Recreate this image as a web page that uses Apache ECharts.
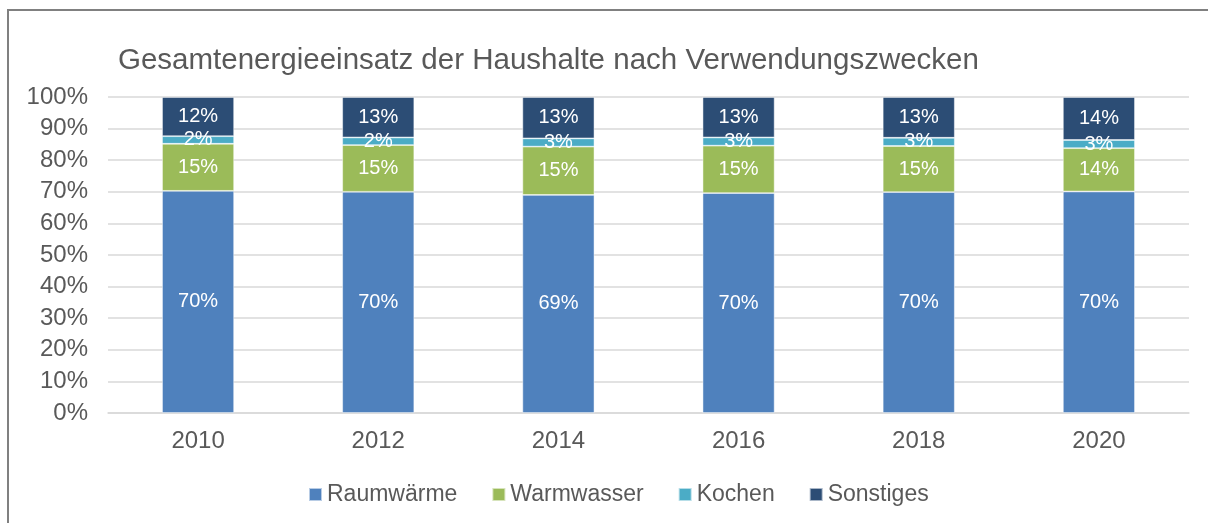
<!DOCTYPE html>
<html>
<head>
<meta charset="utf-8">
<script src="https://cdn.jsdelivr.net/npm/echarts@6/dist/echarts.min.js"></script>
<style>
	html, body { margin: 0; padding: 0; background: #fff; }
	#chart { width: 1208px; height: 523px; }
</style>
</head>
<body>
<div id="chart"></div>
<script>
var years = ['2010', '2012', '2014', '2016', '2018', '2020'];
var raumwaerme = [70.3, 70.0, 69.0, 69.6, 69.9, 70.1];
var warmwasser = [14.9, 14.8, 15.3, 15.0, 14.6, 13.7];
var kochen = [2.4, 2.4, 2.6, 2.6, 2.6, 2.6];
var sonstiges = [12.4, 12.8, 13.1, 12.8, 12.9, 13.6];
var yTicks = [0, 10, 20, 30, 40, 50, 60, 70, 80, 90, 100];

var myColor = ['#4F81BD', '#9BBB59', '#4BACC6', '#2C4D75'];
var textColor = '#595959';
var font = 'Liberation Sans, Arial, sans-serif';

function makeSeries(name, data) {
	return {
		name: name,
		type: 'bar',
		stack: 'total',
		barWidth: '40%',
		data: data,
		itemStyle: {
			borderColor: 'rgba(255,255,255,0.6)',
			borderWidth: 0.8
		},
		label: {
			show: true,
			position: 'inside',
			color: '#fff',
			fontSize: 20,
			fontFamily: font,
			formatter: function(p) {
				return Math.round(p.value) + '%';
			}
		}
	};
}

var chart = echarts.init(document.getElementById('chart'));
chart.setOption({
	animation: false,
	color: myColor,
	textStyle: { fontFamily: font },
	title: {
		text: 'Gesamtenergieeinsatz der Haushalte nach Verwendungszwecken',
		left: 118,
		top: 46,
		padding: 0,
		textStyle: {
			color: textColor,
			fontSize: 29.5,
			fontWeight: 'normal',
			fontFamily: font
		}
	},
	legend: {
		left: 303,
		top: 478,
		itemWidth: 13,
		itemHeight: 13,
		itemGap: 34,
		icon: 'rect',
		textStyle: {
			color: textColor,
			fontSize: 23,
			fontFamily: font
		},
		data: ['Raumwärme', 'Warmwasser', 'Kochen', 'Sonstiges']
	},
	grid: {
		left: 108,
		right: 19,
		top: 97,
		bottom: 110
	},
	xAxis: {
		type: 'category',
		data: years,
		axisLine: { lineStyle: { color: '#d9d9d9', width: 1.5 } },
		axisTick: { show: false },
		axisLabel: {
			color: textColor,
			fontSize: 24,
			margin: 16,
			fontFamily: font
		}
	},
	yAxis: {
		type: 'value',
		min: yTicks[0],
		max: yTicks[yTicks.length - 1],
		interval: yTicks[1] - yTicks[0],
		axisLine: { show: false },
		axisTick: { show: false },
		splitLine: { lineStyle: { color: '#d9d9d9', width: 1.5 } },
		axisLabel: {
			color: textColor,
			fontSize: 24,
			margin: 20,
			fontFamily: font,
			formatter: '{value}%'
		}
	},
	graphic: [{
		type: 'line',
		shape: { x1: 8, y1: 10, x2: 1208, y2: 10 },
		style: { stroke: '#808080', lineWidth: 2 }
	}, {
		type: 'line',
		shape: { x1: 8, y1: 9, x2: 8, y2: 523 },
		style: { stroke: '#808080', lineWidth: 2 }
	}],
	series: [
		makeSeries('Raumwärme', raumwaerme),
		makeSeries('Warmwasser', warmwasser),
		makeSeries('Kochen', kochen),
		makeSeries('Sonstiges', sonstiges)
	]
});
</script>
</body>
</html>
